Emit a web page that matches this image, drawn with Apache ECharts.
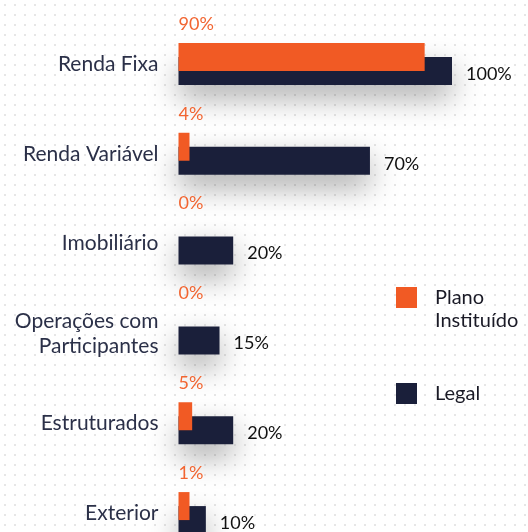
<!DOCTYPE html>
<html>
<head>
<meta charset="utf-8">
<script src="https://cdn.jsdelivr.net/npm/echarts@6/dist/echarts.min.js"></script>
<style>
  html, body {
    margin: 0;
    padding: 0;
    background-color: #fff;
    background-image: radial-gradient(circle, #e6e6e6 1px, transparent 1.3px);
    background-size: 10px 10px;
  }
  #chart { width: 528px; height: 532px; }
</style>
</head>
<body>
<div id="chart"></div>
<script>
  const categories = ['Renda Fixa', 'Renda Variável', 'Imobiliário', 'Operações com\nParticipantes', 'Estruturados', 'Exterior']
  const seriesNames = ['Plano Instituído', 'Legal']
  const planoValues = [90, 4, 0, 0, 5, 1]
  const legalValues = [100, 70, 20, 15, 20, 10]

  const orange = '#F15A24'
  const navy = '#1A1F3A'
  const fontFamily = 'Lato, "Open Sans", sans-serif'

  const chart = echarts.init(document.getElementById('chart'))

  // barras com 0% nao aparecem, so o rotulo
  const planoData = planoValues.map(v => v === 0 ? {value: v, itemStyle: {color: 'transparent'}} : v)

  chart.setOption({
    animation: false,
    textStyle: { fontFamily: fontFamily },
    grid: {
      left: 178.5,
      right: 76,
      top: 19,
      height: 539,
      outerBoundsMode: 'none'
    },
    legend: [
      {
        data: [seriesNames[0]],
        orient: 'vertical',
        left: 396,
        top: 263,
        padding: 0,
        itemWidth: 21,
        itemHeight: 21,
        icon: 'rect',
        // linha vazia em cima para alinhar "Plano" com o quadrado
        formatter: () => ' \nPlano\nInstituído',
        textStyle: {
          color: '#1a1a26',
          fontSize: 20,
          lineHeight: 23,
          padding: [0, 0, 0, 13]
        }
      },
      {
        data: [seriesNames[1]],
        orient: 'vertical',
        left: 396,
        top: 383,
        padding: 0,
        itemWidth: 21,
        itemHeight: 21,
        icon: 'rect',
        textStyle: {
          color: '#1a1a26',
          fontSize: 20,
          padding: [0, 0, 0, 13]
        }
      }
    ],
    xAxis: {
      type: 'value',
      min: 0,
      max: 100,
      show: false
    },
    yAxis: {
      type: 'category',
      inverse: true,
      data: categories,
      axisLine: { show: false },
      axisTick: { show: false },
      axisLabel: {
        margin: 20,
        color: '#2b3048',
        fontSize: 21,
        lineHeight: 25
      }
    },
    series: [
      {
        name: seriesNames[0],
        type: 'bar',
        data: planoData,
        barWidth: 28,
        barGap: '-50%',
        barMinHeight: 11,
        z: 3,
        itemStyle: { color: orange },
        label: {
          show: true,
          position: [0, -19],
          align: 'left',
          verticalAlign: 'middle',
          color: '#F26531',
          fontSize: 18,
          formatter: '{c}%'
        }
      },
      {
        name: seriesNames[1],
        type: 'bar',
        data: legalValues,
        barWidth: 28,
        z: 2,
        itemStyle: {
          color: navy,
          shadowBlur: 30,
          shadowColor: 'rgba(0,0,0,0.35)',
          shadowOffsetY: 12
        },
        label: {
          show: true,
          position: 'right',
          distance: 14,
          offset: [0, 3],
          color: '#111',
          fontSize: 18,
          formatter: '{c}%'
        }
      }
    ]
  })
</script>
</body>
</html>
